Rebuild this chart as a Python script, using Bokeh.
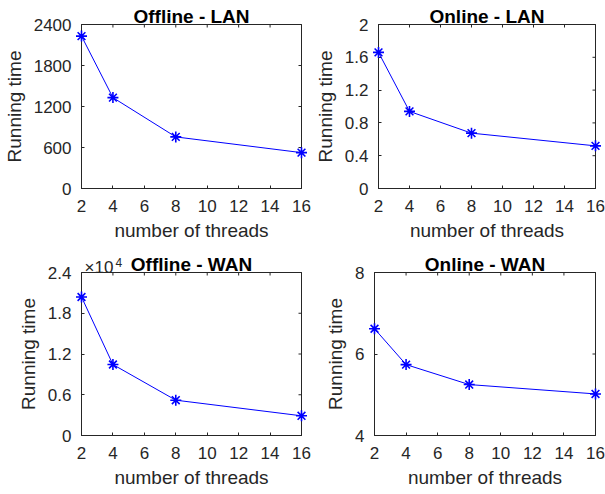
import math
from bokeh.plotting import figure
from bokeh.models import Range1d, FixedTicker
from bokeh.core.properties import value
from bokeh.layouts import column, row
from bokeh.embed import file_html
from bokeh.resources import INLINE

# ---------------- data ----------------
threads = [2, 4, 8, 16]
offline_lan = [2230, 1330, 755, 525]
online_lan = [1.66, 0.94, 0.675, 0.52]
offline_wan = [20400, 10450, 5200, 2900]
online_wan = [6.62, 5.74, 5.25, 5.02]

x_ticks = [2, 4, 6, 8, 10, 12, 14, 16]
x_range_lim = [2, 16]

tl_yticks = [0, 600, 1200, 1800, 2400]
tl_ylabels = ["0", "600", "1200", "1800", "2400"]
tr_yticks = [0, 0.4, 0.8, 1.2, 1.6, 2]
tr_ylabels = ["0", "0.4", "0.8", "1.2", "1.6", "2"]
bl_yticks = [0, 6000, 12000, 18000, 24000]
bl_ylabels = ["0", "0.6", "1.2", "1.8", "2.4"]
br_yticks = [4, 6, 8]
br_ylabels = ["4", "6", "8"]

titles = ["Offline - LAN", "Online - LAN", "Offline - WAN", "Online - WAN"]
x_label = "number of threads"
y_label = "Running time"
exp_base = "\u00d710"
exp_power = "4"

# ---------------- style ----------------
FONT = "Liberation Sans"
AX = "#262626"
BLUE = "#0000ff"


def make_panel(title, ys, yticks, ylabels, width, height, bl, br, bt, bb, exponent=False):
    p = figure(width=width, height=height,
               x_range=Range1d(*x_range_lim), y_range=Range1d(yticks[0], yticks[-1]),
               output_backend="svg", toolbar_location=None,
               min_border_left=bl, min_border_right=br,
               min_border_top=bt, min_border_bottom=bb)
    p.grid.visible = False
    p.outline_line_color = AX
    p.outline_line_width = 1
    p.background_fill_color = "white"
    p.border_fill_color = "white"

    xa = p.xaxis[0]
    xa.ticker = FixedTicker(ticks=x_ticks)
    xa.axis_label = x_label
    ya = p.yaxis[0]
    ya.ticker = FixedTicker(ticks=yticks)
    ya.major_label_overrides = {t: l for t, l in zip(yticks, ylabels)}
    ya.axis_label = y_label
    for a, st, lst in ((xa, 11, 5), (ya, 10, 6)):
        a.major_tick_in = 3
        a.major_tick_out = 0
        a.minor_tick_line_color = None
        a.axis_line_color = AX
        a.major_tick_line_color = AX
        a.major_label_text_color = AX
        a.major_label_text_font = FONT
        a.major_label_text_font_size = "17px"
        a.major_label_standoff = st
        a.axis_label_text_font = FONT
        a.axis_label_text_font_size = "19px"
        a.axis_label_text_font_style = "normal"
        a.axis_label_text_color = AX
        a.axis_label_standoff = lst

    ytop = yticks[-1]
    xright = x_range_lim[1]
    # mirrored inward ticks on top and right edges
    p.ray(x=x_ticks, y=[ytop] * len(x_ticks), length=3, length_units="screen",
          angle=-math.pi / 2, line_color=AX, line_width=1, level="overlay")
    p.ray(x=[xright] * len(yticks), y=yticks, length=3, length_units="screen",
          angle=math.pi, line_color=AX, line_width=1, level="overlay")

    p.line(threads, ys, line_color=BLUE, line_width=1, level="overlay")
    p.scatter(threads, ys, marker="asterisk", size=11, line_color=BLUE,
              line_width=1.6, level="overlay")

    xmid = (x_range_lim[0] + x_range_lim[1]) / 2
    p.text(x=[xmid], y=[ytop], text=[title], text_align="center",
           text_baseline="alphabetic", y_offset=-8,
           text_font=value(FONT), text_font_size=value("19px"),
           text_font_style="bold", text_color="black", level="overlay")
    if exponent:
        p.text(x=[x_range_lim[0]], y=[ytop], text=[exp_base], text_align="left",
               text_baseline="alphabetic", x_offset=3, y_offset=-5,
               text_font=value(FONT), text_font_size=value("17px"),
               text_color=AX, level="overlay")
        p.text(x=[x_range_lim[0]], y=[ytop], text=[exp_power], text_align="left",
               text_baseline="alphabetic", x_offset=34, y_offset=-10,
               text_font=value(FONT), text_font_size=value("12px"),
               text_color=AX, level="overlay")
    return p


p1 = make_panel(titles[0], offline_lan, tl_yticks, tl_ylabels, 311, 248, 81, 10, 24, 60)
p2 = make_panel(titles[1], online_lan, tr_yticks, tr_ylabels, 294, 248, 63, 10, 24, 60)
p3 = make_panel(titles[2], offline_wan, bl_yticks, bl_ylabels, 311, 246, 81, 10, 24, 59, exponent=True)
p4 = make_panel(titles[3], online_wan, br_yticks, br_ylabels, 294, 246, 63, 10, 24, 59)

layout = column(row(p1, p2), row(p3, p4))
open("out.html", "w").write(file_html(layout, INLINE))
